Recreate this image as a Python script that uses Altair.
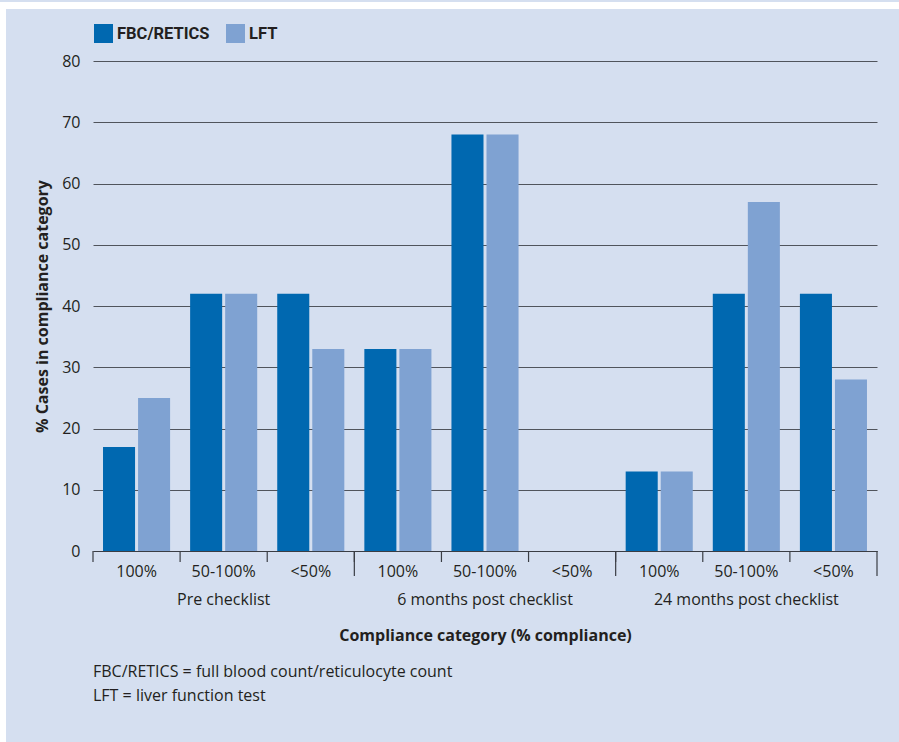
import altair as alt
import pandas as pd

# Chart data
groups = ["Pre checklist", "6 months post checklist", "24 months post checklist"]
categories = ["100%", "50-100%", "<50%"]
series = ["FBC/RETICS", "LFT"]
fbc_retics = [17, 42, 42, 33, 68, 0, 13, 42, 42]
lft = [25, 42, 33, 33, 68, 0, 13, 57, 28]
y_ticks = [0, 10, 20, 30, 40, 50, 60, 70, 80]
footnotes = [
    "FBC/RETICS = full blood count/reticulocyte count",
    "LFT = liver function test",
]

# Styling
W, H = 784, 490
BG = "#d5dff0"
TEXT = "#231f20"
GRID = "#50545c"
COLORS = ["#0068b0", "#7fa2d2"]
FONT = "Open Sans"

# One band per (group, category); the key keeps duplicate labels distinct
keys = [f"{gi}|{c}" for gi in range(len(groups)) for c in categories]
rows = []
for i, k in enumerate(keys):
    for s, vals in zip(series, [fbc_retics, lft]):
        rows.append({"key": k, "series": s, "value": vals[i]})
bars_df = pd.DataFrame(rows)

x_axis = alt.Axis(
    title="Compliance category (% compliance)",
    labelExpr="split(datum.label, '|')[1]",
    labelAngle=0,
    labelFont=FONT,
    labelFontSize=16,
    labelColor=TEXT,
    labelPadding=12,
    ticks=False,
    tickSize=0,
    domainColor="#3a3d44",
    domainWidth=1.2,
    grid=False,
    titleFont=FONT,
    titleFontSize=16,
    titleFontWeight="bold",
    titleColor=TEXT,
    titlePadding=48,
)
x_scale = alt.Scale(paddingInner=0, paddingOuter=0)


def xenc(**kw):
    return alt.X("key:N", sort=keys, scale=x_scale, axis=x_axis, **kw)


bars = (
    alt.Chart(bars_df)
    .mark_bar()
    .encode(
        x=xenc(),
        xOffset=alt.XOffset(
            "series:N",
            sort=series,
            scale=alt.Scale(paddingInner=0.0857, paddingOuter=0.2857),
        ),
        y=alt.Y(
            "value:Q",
            scale=alt.Scale(domain=[0, 80], nice=False),
            axis=alt.Axis(
                values=y_ticks,
                title="% Cases in compliance category",
                grid=True,
                gridColor=GRID,
                gridWidth=1,
                domain=False,
                ticks=False,
                labelFont=FONT,
                labelFontSize=16,
                labelColor=TEXT,
                labelPadding=13,
                titleFont=FONT,
                titleFontSize=16,
                titleFontWeight="bold",
                titleColor=TEXT,
                titlePadding=11,
            ),
        ),
        color=alt.Color(
            "series:N",
            sort=series,
            scale=alt.Scale(domain=series, range=COLORS),
            legend=alt.Legend(
                title=None,
                orient="none",
                legendX=1,
                legendY=-37,
                direction="horizontal",
                symbolType="square",
                symbolSize=361,
                symbolStrokeWidth=0,
                symbolOpacity=1,
                labelFont="Roboto",
                labelFontSize=16.5,
                labelFontWeight="bold",
                labelColor=TEXT,
                labelOffset=4,
                columnPadding=16,
                padding=0,
            ),
        ),
    )
)

# Short ticks at every category boundary, long ticks between the groups
tick_df = pd.DataFrame({"key": keys})
short_ticks = (
    alt.Chart(tick_df)
    .mark_rule(color="#3a3d44", strokeWidth=1.2)
    .encode(x=xenc(bandPosition=0), y=alt.value(H), y2=alt.value(H + 11))
)
long_df = pd.DataFrame({"key": [keys[3], keys[6]]})
long_ticks = (
    alt.Chart(long_df)
    .mark_rule(color="#3a3d44", strokeWidth=1.2)
    .encode(x=xenc(bandPosition=0), y=alt.value(H), y2=alt.value(H + 25))
)
end_df = pd.DataFrame({"key": [keys[-1]]})
end_tick = (
    alt.Chart(end_df)
    .mark_rule(color="#3a3d44", strokeWidth=1.2)
    .encode(x=xenc(bandPosition=1), y=alt.value(H), y2=alt.value(H + 25))
)

# Group names centred under the middle category of each group
group_df = pd.DataFrame({"key": [keys[1], keys[4], keys[7]], "group": groups})
group_labels = (
    alt.Chart(group_df)
    .mark_text(font=FONT, fontSize=16, color=TEXT, baseline="alphabetic", align="center")
    .encode(x=xenc(), y=alt.value(H + 54), text="group:N")
)

note_df = pd.DataFrame({"line": [0]})
notes = (
    alt.Chart(note_df)
    .mark_text(
        font=FONT,
        fontSize=16,
        color=TEXT,
        align="left",
        baseline="alphabetic",
        lineHeight=24.3,
    )
    .encode(x=alt.value(0), y=alt.value(H + 126), text=alt.value(footnotes))
)

# White margin strips at the top and left edge of the panel
strip_df = pd.DataFrame({"s": [0]})
top_strip = (
    alt.Chart(strip_df)
    .mark_rect(color="white")
    .encode(x=alt.value(-93), x2=alt.value(W + 22), y=alt.value(-59), y2=alt.value(-52))
)
left_strip = (
    alt.Chart(strip_df)
    .mark_rect(color="white")
    .encode(x=alt.value(-93), x2=alt.value(-87), y=alt.value(-59), y2=alt.value(H + 191))
)

chart = (
    alt.layer(top_strip, left_strip, bars, short_ticks, long_ticks, end_tick, group_labels, notes)
    .properties(
        width=W,
        height=H,
        background=BG,
        padding={"left": 93, "top": 61, "right": 22, "bottom": 191},
        autosize=alt.AutoSizeParams(type="none"),
    )
    .configure_view(stroke=None)
)

chart.save("out.html", embed_options={"renderer": "svg", "actions": False})
